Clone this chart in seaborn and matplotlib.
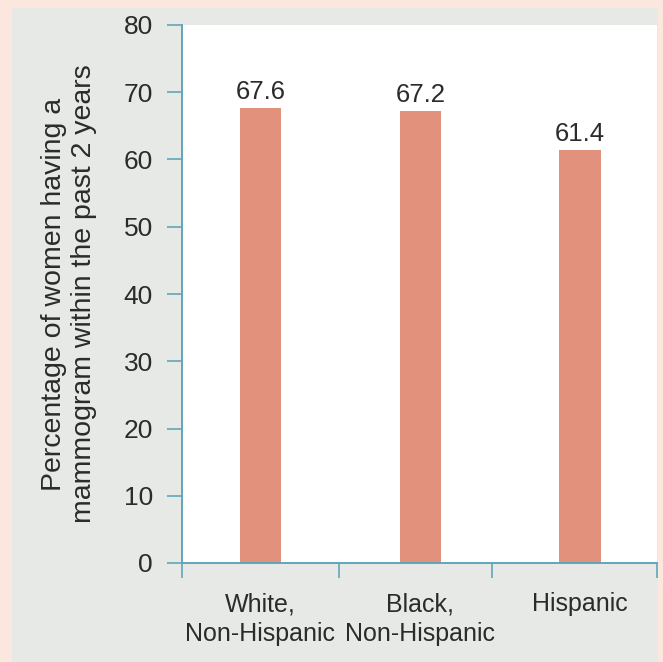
import matplotlib
matplotlib.use("Agg")
import matplotlib.pyplot as plt
import seaborn as sns
import pandas as pd
from matplotlib.patches import Rectangle

categories = ["White,\nNon-Hispanic", "Black,\nNon-Hispanic", "Hispanic"]
values = [67.6, 67.2, 61.4]
value_labels = ["67.6", "67.2", "61.4"]
y_ticks = [0, 10, 20, 30, 40, 50, 60, 70, 80]
y_label = "Percentage of women having a\nmammogram within the past 2 years"

sns.set_style("white")
plt.rcParams['font.family'] = ['Liberation Sans', 'DejaVu Sans']

PINK = "#fce7de"
PANEL = "#e7e9e6"
AXIS = "#5fa6bb"
BAR = "#e2917d"
TEXT = "#2b2b2b"

fig = plt.figure(figsize=(6.63, 6.62), dpi=100, facecolor=PINK)
fig.patches.append(Rectangle((12 / 663, 0), (658 - 12) / 663, 1 - 8 / 662,
                             transform=fig.transFigure, facecolor=PANEL,
                             edgecolor="none", zorder=-10))

ax = fig.add_axes([182 / 663, 1 - 563 / 662, (657 - 182) / 663, (563 - 25) / 662])
ax.set_facecolor("white")

df = pd.DataFrame({"cat": categories, "val": values})
sns.barplot(data=df, x="cat", y="val", color=BAR, saturation=1, width=0.26, ax=ax)
for p in ax.patches:
    p.set_edgecolor("none")

for i, (v, lab) in enumerate(zip(values, value_labels)):
    ax.text(i, v + 0.6, lab, ha="center", va="bottom", fontsize=18.5, color=TEXT)

ax.set_ylim(0, 80)
ax.set_xlim(-0.49, 2.48)
ax.set_yticks(y_ticks)
ax.set_yticklabels([str(t) for t in y_ticks], fontsize=19, color=TEXT)

# category boundary ticks (major) and labels on minor ticks
ax.set_xticks([-0.49, 0.49, 1.45, 2.48])
ax.set_xticklabels([])
ax.set_xticks([0, 1, 2], minor=True)
ax.set_xticklabels(categories, minor=True, fontsize=18, color=TEXT, linespacing=1.3)
ax.tick_params(axis="x", which="major", direction="out", length=11, width=1.2, color=AXIS)
ax.tick_params(axis="x", which="minor", length=0, pad=21)
ax.tick_params(axis="y", direction="out", length=11, width=1.2, color=AXIS, pad=10)
ax.tick_params(left=True, bottom=True)
ax.tick_params(axis="x", which="major", bottom=True)

for s in ["top", "right"]:
    ax.spines[s].set_visible(False)
for s in ["left", "bottom"]:
    ax.spines[s].set_color(AXIS)
    ax.spines[s].set_linewidth(1.4)

ax.set_xlabel("")
ax.set_ylabel(y_label, fontsize=20.5, color=TEXT, linespacing=1.2, labelpad=19)

fig.savefig("out.png", dpi=100, facecolor=PINK)
